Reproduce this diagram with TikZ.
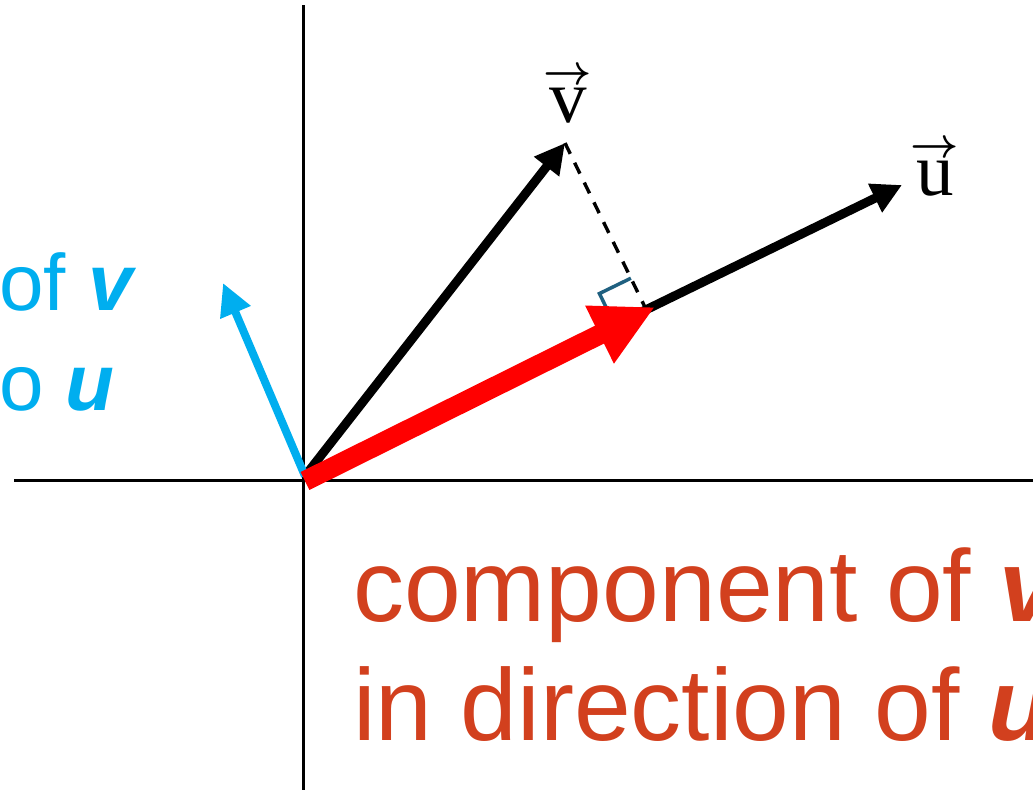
\RequirePackage{fix-cm}
\documentclass[tikz,border=0pt]{standalone}
\usepackage{fontspec}
\setmainfont{Liberation Serif}
\newfontfamily\sanslbl{Liberation Sans}
\usetikzlibrary{arrows.meta,calc}
\definecolor{cyanblue}{RGB}{0,174,239}
\definecolor{rusty}{RGB}{210,64,30}
\definecolor{anglemark}{RGB}{31,96,128}
\newcommand\arrowletter[1]{\vbox{\offinterlineskip\halign{\hfil##\hfil\cr
  {\fontsize{42}{42}\selectfont\boldmath$\rightarrow$}\cr\noalign{\kern3pt}#1\cr}}}
\begin{document}
\begin{tikzpicture}[x=1pt,y=-1pt,
  axisline/.style={line width=3pt,black},
  blackvec/.style={line width=9pt,black,-{Triangle[length=30pt,width=30pt]}},
  bluevec/.style={line width=8pt,cyanblue,-{Triangle[length=32pt,width=31pt]}},
  redvec/.style={line width=20pt,red,-{Triangle[length=62pt,width=60pt]}},
  projline/.style={line width=3.4pt,black,dash pattern=on 12pt off 10pt},
  rightmark/.style={line width=3.5pt,anglemark},
  veclabel/.style={inner sep=0pt,anchor=base,font=\fontsize{75}{75}\selectfont},
  bluetext/.style={inner sep=0pt,anchor=base west,text=cyanblue,font=\sanslbl\fontsize{80}{80}\selectfont},
  redtext/.style={inner sep=0pt,anchor=base west,text=rusty,font=\sanslbl\fontsize{102}{102}\selectfont}
]
\useasboundingbox (0,0) rectangle (1033,790);
\clip (0,0) rectangle (1033,790);

% axes
\coordinate (Ytop) at (303,5);
\coordinate (Ybot) at (303,790);
\coordinate (Xl) at (14,480);
\coordinate (Xr) at (1033,480);
\draw[axisline] (Ytop) -- (Ybot);
\draw[axisline] (Xl) -- (Xr);

% key points
\coordinate (O) at (305,476);
\coordinate (V) at (565,143);
\coordinate (U) at (902,185);
\coordinate (B) at (223,283);
\coordinate (R0) at (305,481);
\coordinate (R1) at (655,307);
\coordinate (F) at ($(O)!(V)!(U)$);
\coordinate (MA) at ($(F)!35pt!(O)$);
\coordinate (MB) at ($(F)!35pt!(V)$);
\coordinate (MC) at ($(MA)+(MB)-(F)$);

% vectors
\draw[blackvec] (O) -- (V);
\draw[blackvec] (O) -- (U);
\draw[bluevec] (O) -- (B);
\draw[projline] (V) -- (F);
\draw[rightmark] (MA) -- (MC) -- (MB);
\draw[redvec] (R0) -- (R1);

% labels
\node[veclabel] (vl) at (568,122) {\arrowletter{v}};
\node[veclabel] (ul) at (935,195) {\arrowletter{u}};

\node[bluetext] (bt1) at (-1,310) {of \textbf{\textit{v}}};
\node[bluetext] (bt2) at (-1,410) {o \textbf{\textit{u}}};

\node[redtext] (rt1) at (353,621) {component of \textbf{\textit{v}}};
\node[redtext] (rt2) at (353,740) {in direction of \textbf{\textit{u}}};
\end{tikzpicture}
\end{document}
